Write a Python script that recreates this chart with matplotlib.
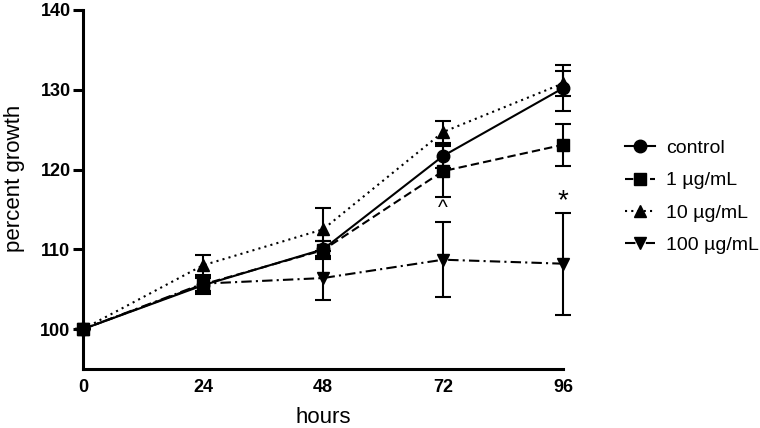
import matplotlib
matplotlib.use("Agg")
import matplotlib.pyplot as plt
from matplotlib.lines import Line2D

plt.rcParams['font.family'] = ['Liberation Sans', 'DejaVu Sans']

hours = [0, 24, 48, 72, 96]
labels = ["control", "1 \u00b5g/mL", "10 \u00b5g/mL", "100 \u00b5g/mL"]
control = [100, 105.5, 110.0, 121.7, 130.2]
control_err = [0, 0.9, 1.0, 1.5, 2.9]
conc_1 = [100, 105.6, 109.9, 119.8, 123.1]
conc_1_err = [0, 1.2, 1.1, 3.2, 2.6]
conc_10 = [100, 108.0, 112.5, 124.7, 130.8]
conc_10_err = [0, 1.3, 2.7, 1.4, 1.6]
conc_100 = [100, 105.7, 106.4, 108.7, 108.2]
conc_100_err = [0, 0.9, 2.8, 4.7, 6.4]
annot_x = [72, 96]
annot_txt = ["^", "*"]

series = [(control, control_err, 'o', '-'),
          (conc_1, conc_1_err, 's', (0, (4, 2))),
          (conc_10, conc_10_err, '^', (0, (1, 2))),
          (conc_100, conc_100_err, 'v', (0, (5, 2, 1, 2)))]

fig = plt.figure(figsize=(7.6, 4.28), dpi=100)
ax = fig.add_axes([83/760, 59/428, 480/760, 359/428])

handles = []
for (vals, err, mk, ls), lab in zip(series, labels):
    ax.errorbar(hours, vals, yerr=err, color='black', marker=mk,
                markersize=9, linestyle=ls, linewidth=1.5,
                elinewidth=1.5, capsize=6, capthick=1.5,
                clip_on=False, zorder=3)
    handles.append(Line2D([], [], color='black', marker=mk, markersize=9,
                          linestyle=ls, linewidth=1.5, label=lab))

# significance marks above the 100 ug/mL error bars
for x, t in zip(annot_x, annot_txt):
    i = hours.index(x)
    top = conc_100[i] + conc_100_err[i]
    if t == "*":
        ax.text(x, top - 0.2, t, ha='center', va='bottom', fontsize=20)
    else:
        ax.text(x, top + 0.5, t, ha='center', va='bottom', fontsize=15)

ax.set_xlim(0, 96)
ax.set_ylim(95, 140)
ax.set_xticks(hours)
ax.set_yticks([100, 110, 120, 130, 140])
for s in ['top', 'right']:
    ax.spines[s].set_visible(False)
for s in ['left', 'bottom']:
    ax.spines[s].set_linewidth(2.2)
ax.tick_params(axis='x', length=0, pad=7)
ax.tick_params(axis='y', length=7, width=2.2, pad=2)
for lbl in ax.get_xticklabels() + ax.get_yticklabels():
    lbl.set_fontweight('bold')
    lbl.set_fontsize(13)

ax.set_xlabel("hours", fontsize=16, labelpad=8)
ax.set_ylabel("percent growth", fontsize=16)
ax.yaxis.set_label_coords(-0.121, 0.532)

ax.legend(handles=handles, loc='center left', bbox_to_anchor=(1.112, 0.48),
          borderaxespad=0, frameon=False, fontsize=14, handlelength=1.55,
          labelspacing=0.75, handletextpad=0.6)

fig.savefig("out.png", dpi=100)
